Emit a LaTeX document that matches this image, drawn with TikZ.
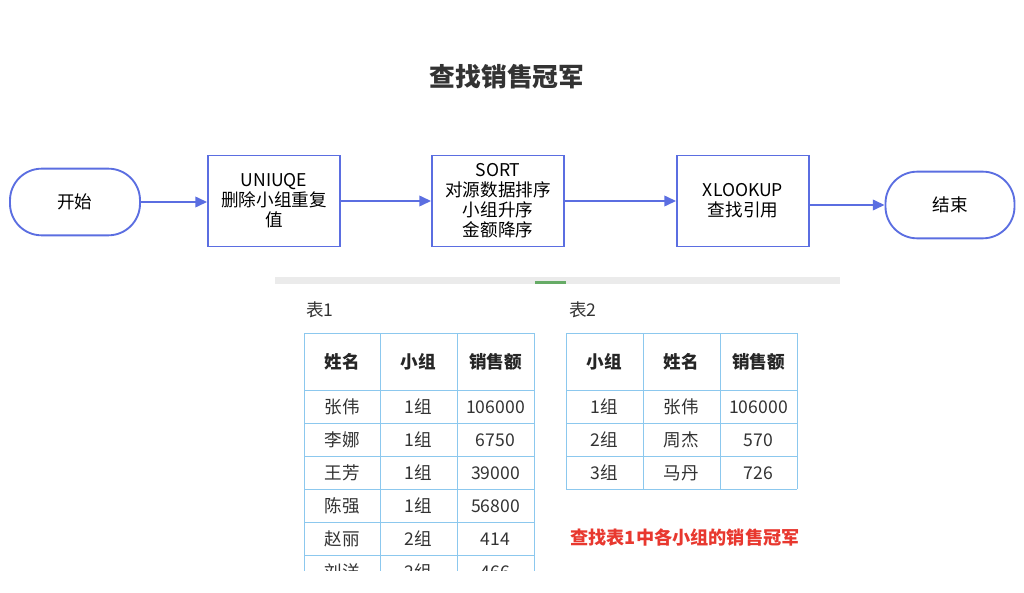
\documentclass[tikz,border=0pt]{standalone}
\usepackage{fontspec}
\newfontfamily\cjk{Noto Sans CJK SC}
\usetikzlibrary{arrows.meta,positioning}
\definecolor{flowblue}{HTML}{5B6EE1}
\definecolor{gridblue}{HTML}{8CC8EE}
\definecolor{tabred}{HTML}{E8382F}

\begin{document}
\begin{tikzpicture}[x=0.03cm,y=-0.03cm,
		proc/.style={draw=flowblue,line width=1.6pt,minimum width=3.96cm,minimum height=2.73cm,align=center,font=\cjk\fontsize{15}{17}\selectfont},
		term/.style={draw=flowblue,line width=1.6pt,rounded corners=0.95cm,minimum width=3.9cm,minimum height=2.0cm,font=\cjk\fontsize{15}{17}\selectfont},
		flow/.style={flowblue,line width=1.6pt,-{Triangle[length=10pt,width=9pt]}},
		cell/.style={font=\cjk\fontsize{15}{17}\selectfont,text=black!80},
		head/.style={font=\cjk\bfseries\fontsize{15}{17}\selectfont,text=black!85}]
	\useasboundingbox (0,0) rectangle (1024,593);

	% title
	\node[font=\cjk\bfseries\fontsize{22}{26}\selectfont,text=black!80] (title) at (507,77) {查找销售冠军};

	% flowchart
	\node[term] (start) at (75,202) {开始};
	\node[proc] (uniq) at (274,201) {UNIUQE\\删除小组重复\\值};
	\node[proc] (sort) at (498,201) {SORT\\对源数据排序\\小组升序\\金额降序};
	\node[proc] (look) at (743,201) {XLOOKUP\\查找引用};
	\node[term,minimum width=3.87cm] (stop) at (950,205) {结束};
	\draw[flow] (start.east) -- (uniq.west|-start.east);
	\draw[flow] (uniq.east) -- (sort.west);
	\draw[flow] (sort.east) -- (look.west);
	\draw[flow] (look.east|-stop.west) -- (stop.west);

	% sheet strip
	\fill[black!8] (275,277) rectangle (840,284);
	\fill[green!45!black!60] (535,281) rectangle (566,284);

	\node[cell] (capA) at (320,310) {表1};
	\node[cell] (capB) at (583,310) {表2};

	% table 1
	\begin{scope}
		\clip (290,320) rectangle (560,570);
		\foreach \y in {333,390,423,456,489,522,555}
			\draw[gridblue,line width=0.8pt] (304,\y) -- (534,\y);
		\foreach \x in {304,380,457,534}
			\draw[gridblue,line width=0.8pt] (\x,333) -- (\x,600);
		\foreach \a/\b/\c [count=\i] in {张伟/1组/106000,李娜/1组/6750,王芳/1组/39000,陈强/1组/56800,赵丽/2组/414,刘洋/2组/466}
		{
			\node[cell] at (342,374+33*\i) {\a};
			\node[cell] at (418.5,374+33*\i) {\b};
			\node[cell] at (495.5,374+33*\i) {\c};
		}
	\end{scope}
	\node[head] (hA1) at (342,362) {姓名};
	\node[head] (hA2) at (418.5,362) {小组};
	\node[head] (hA3) at (495.5,362) {销售额};

	% table 2
	\foreach \y in {333,390,423,456,489}
		\draw[gridblue,line width=0.8pt] (566,\y) -- (797,\y);
	\foreach \x in {566,643,720,797}
		\draw[gridblue,line width=0.8pt] (\x,333) -- (\x,489);
	\node[head] (hB1) at (604.5,362) {小组};
	\node[head] (hB2) at (681.5,362) {姓名};
	\node[head] (hB3) at (758.5,362) {销售额};
	\foreach \a/\b/\c [count=\i] in {1组/张伟/106000,2组/周杰/570,3组/马丹/726}
	{
		\node[cell] at (604.5,374+33*\i) {\a};
		\node[cell] at (681.5,374+33*\i) {\b};
		\node[cell] at (758.5,374+33*\i) {\c};
	}

	\node[font=\cjk\bfseries\fontsize{15.5}{18}\selectfont,text=tabred] (note) at (685,538) {查找表1中各小组的销售冠军};
\end{tikzpicture}
\end{document}
